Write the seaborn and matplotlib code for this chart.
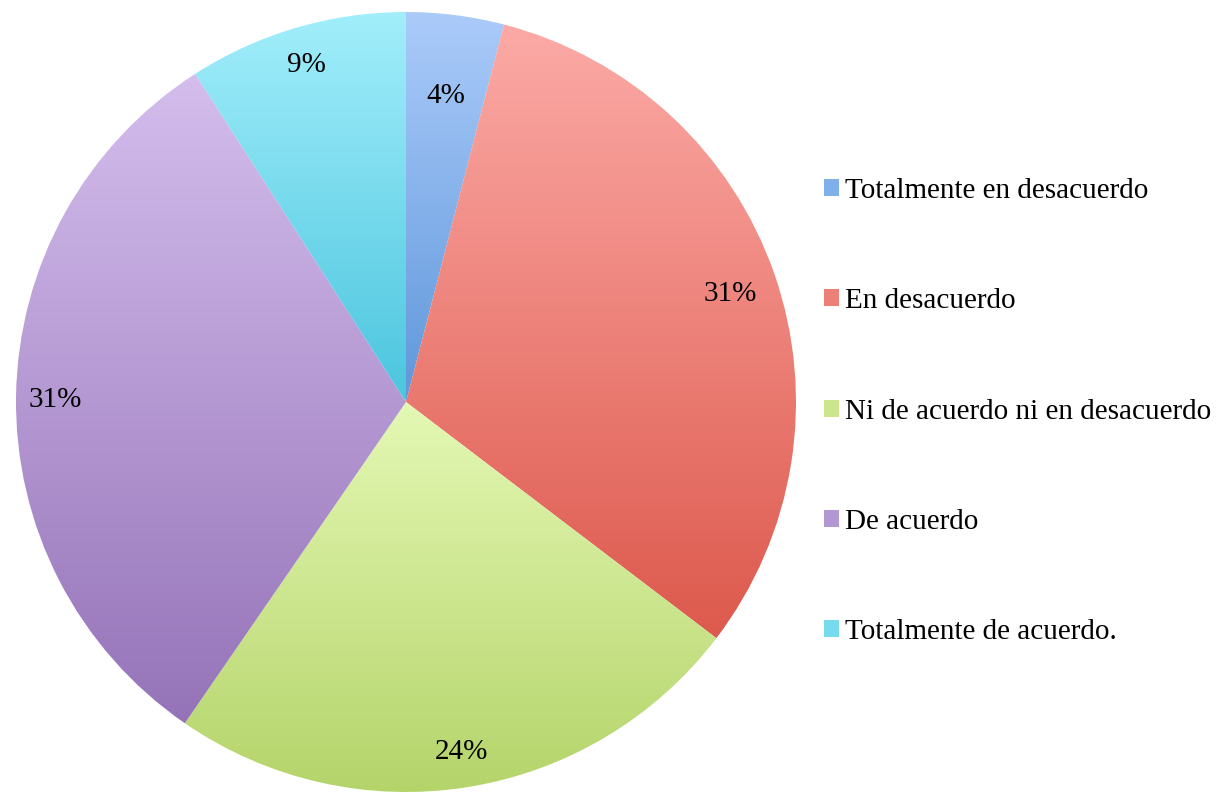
import numpy as np
import matplotlib
matplotlib.use("Agg")
import matplotlib.pyplot as plt
from matplotlib.colors import LinearSegmentedColormap
from matplotlib.patches import Patch
import seaborn as sns

# survey answers (percent)
categories = ["Totalmente en desacuerdo", "En desacuerdo",
              "Ni de acuerdo ni en desacuerdo", "De acuerdo",
              "Totalmente de acuerdo."]
values = [4, 31, 24, 31, 9]

# light (top) and dark (bottom) colour of each slice gradient
top_colors = ["#abcbfa", "#fcaaa6", "#e4f8b4", "#d4beed", "#a2eefb"]
bottom_colors = ["#5f97da", "#dd594d", "#b3d368", "#9573b8", "#4bc5de"]
legend_colors = ["#80b0ea", "#ec7f77", "#cbe68d", "#b198d3", "#76dbee"]
# radial position of each percentage label (fraction of radius)
label_dist = [0.80, 0.88, 0.90, 0.90, 0.91]

sns.set_theme(style="white")
plt.rcParams["font.family"] = ["Liberation Serif", "DejaVu Serif"]
plt.rcParams["text.color"] = "black"

fig = plt.figure(figsize=(12.26, 7.93), dpi=100)
W, H = 1226, 793
cx, cy, r = 406, 391, 390
ax = fig.add_axes([(cx - r) / W, (cy - r) / H, 2 * r / W, 2 * r / H])

wedges, texts, autotexts = ax.pie(
    values, startangle=90, counterclock=False,
    colors=bottom_colors, autopct="%1.0f%%", pctdistance=1.0,
    textprops=dict(fontsize=21, color="black"),
    wedgeprops=dict(linewidth=0),
)
ax.set_xlim(-1, 1)
ax.set_ylim(-1, 1)
ax.set_aspect("equal")
ax.axis("off")

# vertical gradient fill clipped to each wedge
for w, c0, c1 in zip(wedges, top_colors, bottom_colors):
    verts = w.get_path().vertices
    x0, x1 = verts[:, 0].min(), verts[:, 0].max()
    y0, y1 = verts[:, 1].min(), verts[:, 1].max()
    cmap = LinearSegmentedColormap.from_list("g", [c1, c0])
    grad = np.linspace(0, 1, 256).reshape(-1, 1)
    im = ax.imshow(grad, cmap=cmap, extent=[x0, x1, y0, y1],
                   origin="lower", aspect="auto", zorder=w.get_zorder())
    im.set_clip_path(w)
    w.set_facecolor("none")

for t, d in zip(autotexts, label_dist):
    x, y = t.get_position()
    t.set_position((x * d, y * d - 0.01))
    t.set_zorder(5)

handles = [Patch(facecolor=c, edgecolor="none") for c in legend_colors]
fig.legend(handles, categories, loc="upper left",
           bbox_to_anchor=(824 / W, 1 - 178 / H), frameon=False,
           fontsize=21, handlelength=0.52, handleheight=0.52,
           handletextpad=0.2, labelspacing=2.89, borderpad=0,
           borderaxespad=0, labelcolor="black")

fig.savefig("out.png", dpi=100)
